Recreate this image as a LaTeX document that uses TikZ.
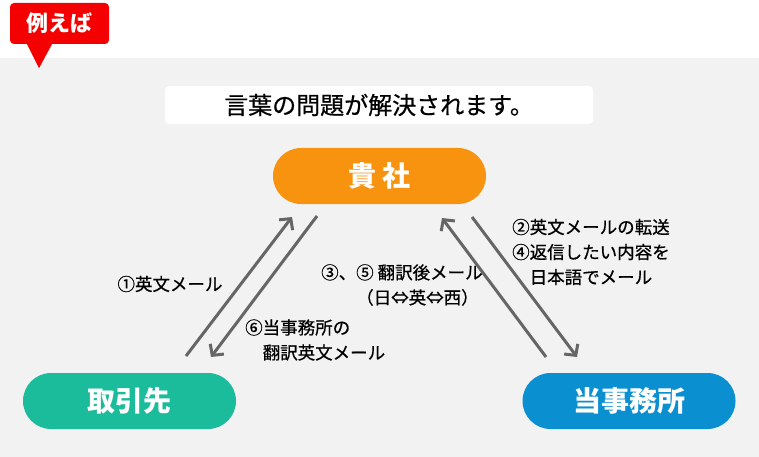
\documentclass[tikz,border=0pt]{standalone}
\usepackage{fontspec}
\setmainfont{Noto Sans CJK JP}
\newfontfamily\medfont[FakeBold=0.6]{Noto Sans CJK JP}
\usepackage{xcolor}
\usepackage{tikz}
\usetikzlibrary{arrows.meta, positioning}

\definecolor{bggray}{HTML}{F2F2F2}
\definecolor{tagred}{HTML}{F50000}
\definecolor{kisha}{HTML}{F7930E}
\definecolor{torihiki}{HTML}{1BBC9B}
\definecolor{jimusho}{HTML}{0A8FD0}
\definecolor{arrowgray}{HTML}{666666}

\begin{document}
\begin{tikzpicture}[
    x=1pt, y=-1pt,
    pill/.style={rectangle, rounded corners=28pt, minimum width=213pt,
                 minimum height=56pt, text=white,
                 font=\fontsize{28}{28}\selectfont\bfseries},
    arrow/.style={arrowgray, line width=3pt,
                  -{Straight Barb[length=8pt,width=17pt]}},
    note/.style={font=\fontsize{17.5}{25}\selectfont\medfont, align=left, inner sep=0pt}
]

\useasboundingbox (0,0) rectangle (759,457);
\fill[white]  (0,0)  rectangle (759,58);
\fill[bggray] (0,58) rectangle (759,457);

% Red tag
\node[fill=tagred, rounded corners=4pt, minimum width=99pt, minimum height=41pt,
      text=white, font=\fontsize{22}{22}\selectfont\bfseries] (tag) at (59.5,23.5) {例えば};
\fill[tagred] ([xshift=-33pt,yshift=1pt]tag.south) -- ([xshift=-7pt,yshift=1pt]tag.south)
      -- ([xshift=-20.5pt,yshift=-24pt]tag.south) -- cycle;

% Title
\node[fill=white, rounded corners=4pt, minimum width=428pt, minimum height=38pt,
      font=\fontsize{24}{24}\selectfont\medfont] (title) at (379,105) {言葉の問題が解決されます。};

% Parties
\node[pill, fill=kisha]    (kisha)    at (379.5,176) {貴\hspace{6pt}社};
\node[pill, fill=torihiki] (torihiki) at (129.5,401) {取引先};
\node[pill, fill=jimusho]  (jimusho)  at (629,401)   {当事務所};

% Arrow ends
\coordinate (a1s) at (186,356);
\coordinate (a1e) at (292,217);
\coordinate (a2s) at (317,216);
\coordinate (a2e) at (211,357);
\coordinate (a3s) at (546,357);
\coordinate (a3e) at (442,218);
\coordinate (a4s) at (472,217);
\coordinate (a4e) at (577,357);

\draw[arrow] (a1s) -- (a1e);
\draw[arrow] (a2s) -- (a2e);
\draw[arrow] (a3s) -- (a3e);
\draw[arrow] (a4s) -- (a4e);

% Labels
\node[note] (mail1) at (170,284) {①英文メール};
\node[note, anchor=west] (mail6)  at (245,340) {⑥当事務所の\\\hspace*{1em}翻訳英文メール};
\node[note, anchor=west] (mail35) at (321,285) {③、⑤ 翻訳後メール\\\hspace*{2em}（日⇔英⇔西）};
\node[note, anchor=west] (mail24) at (512,252) {②英文メールの転送\\④返信したい内容を\\\hspace*{1em}日本語でメール};

\end{tikzpicture}
\end{document}
